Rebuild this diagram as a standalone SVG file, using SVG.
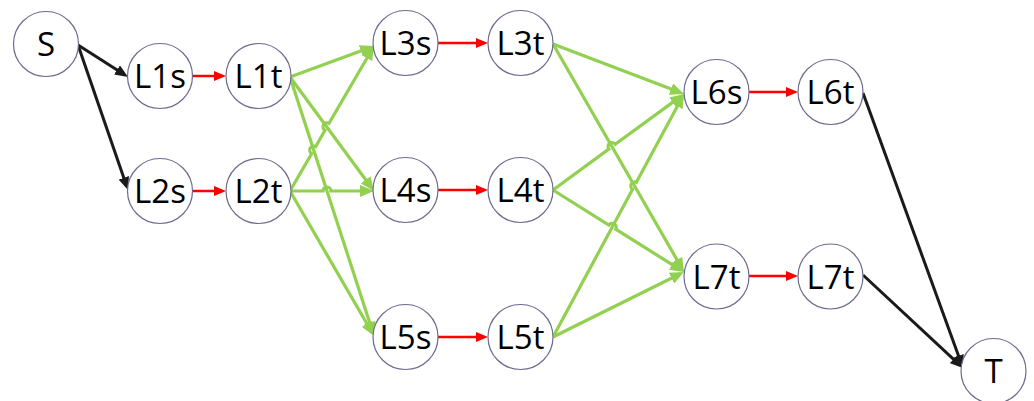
<svg xmlns="http://www.w3.org/2000/svg" width="1034" height="401" viewBox="0 0 1034 401">
  <style>
    .node circle { fill: #ffffff; stroke: #6b6b8e; stroke-width: 1.2; }
    .node text { font-family: "Open Sans", "Noto Sans", "Liberation Sans", sans-serif; font-size: 33px; fill: #000000; text-anchor: middle; }
    .blk { fill: none; stroke: #1a1a1a; stroke-width: 3; marker-end: url(#ahBlack); }
    .red { fill: none; stroke: #ff0000; stroke-width: 2.5; marker-end: url(#ahRed); }
    .grn { fill: none; stroke: #92d050; stroke-width: 3.2; marker-end: url(#ahGreen); }
  </style>
  <defs>
    <marker id="ahBlack" markerUnits="userSpaceOnUse" markerWidth="14" markerHeight="11" refX="9" refY="5.5" orient="auto">
      <path d="M0,0 L13,5.5 L0,11 z" fill="#1a1a1a"/>
    </marker>
    <marker id="ahRed" markerUnits="userSpaceOnUse" markerWidth="13" markerHeight="10" refX="8" refY="5" orient="auto">
      <path d="M0,0 L12,5 L0,10 z" fill="#ff0000"/>
    </marker>
    <marker id="ahGreen" markerUnits="userSpaceOnUse" markerWidth="15" markerHeight="12" refX="10" refY="6" orient="auto">
      <path d="M0,0 L14,6 L0,12 z" fill="#92d050"/>
    </marker>
  </defs>

  <rect width="1034" height="401" fill="#ffffff"/>

  <g id="connectors">
    <!-- source / sink edges -->
    <path class="blk" d="M78,45 L124.6,74.8"/>
    <path class="blk" d="M78,45 L126.7,186.3"/>
    <path class="blk" d="M863,93 L961.6,364.3"/>
    <path class="blk" d="M863,275 L960.1,365.3"/>

    <!-- internal s->t edges -->
    <path class="red" d="M193,76 L222,76"/>
    <path class="red" d="M193,191 L222,191"/>
    <path class="red" d="M438,43 L484,43"/>
    <path class="red" d="M438,190 L484,190"/>
    <path class="red" d="M438,337 L484,337"/>
    <path class="red" d="M749,92 L794,92"/>
    <path class="red" d="M749,276 L794,276"/>

    <!-- L1t / L2t to L3s, L4s, L5s -->
    <path class="grn" d="M290,77 L370.2,47.4"/>
    <path class="grn" d="M290,77 L371.6,187.8"/>
    <path class="grn" d="M290,77 L372.8,332.2"/>
    <path class="grn" d="M290,191 L311.7,153.6 A4,4 0 0 1 315.7,146.6 L325,130.3 A4,4 0 0 1 329,123.3 L372,49.5"/>
    <path class="grn" d="M290,191 L323,191 A4,4 0 0 1 331,191 L370,191"/>
    <path class="grn" d="M290,191 L372,332.5"/>

    <!-- L3t / L4t / L5t to L6s, L7t -->
    <path class="grn" d="M553,44 L680.3,92.6"/>
    <path class="grn" d="M553,44 L682,268.5"/>
    <path class="grn" d="M553,190 L608.8,149.1 A4,4 0 0 1 615.2,144.3 L680.8,96.4"/>
    <path class="grn" d="M553,190 L608.9,225 A4,4 0 0 1 615.7,229.2 L680.6,269.9"/>
    <path class="grn" d="M553,337 L632.6,189.3 A4,4 0 0 1 636.4,182.3 L682.1,97.5"/>
    <path class="grn" d="M553,337 L680.4,273.8"/>
  </g>

  <g id="S" class="node"><circle cx="46" cy="44" r="32.5"/><text x="46" y="56">S</text></g>
  <g id="L1s" class="node"><circle cx="160" cy="76" r="32.5"/><text x="160" y="88">L1s</text></g>
  <g id="L1t" class="node"><circle cx="258.5" cy="76" r="32.5"/><text x="258.5" y="88">L1t</text></g>
  <g id="L2s" class="node"><circle cx="160" cy="191" r="32.5"/><text x="160" y="203">L2s</text></g>
  <g id="L2t" class="node"><circle cx="258.5" cy="191" r="32.5"/><text x="258.5" y="203">L2t</text></g>
  <g id="L3s" class="node"><circle cx="405.5" cy="43" r="32.5"/><text x="405.5" y="55">L3s</text></g>
  <g id="L3t" class="node"><circle cx="520.5" cy="43" r="32.5"/><text x="520.5" y="55">L3t</text></g>
  <g id="L4s" class="node"><circle cx="405.5" cy="190" r="32.5"/><text x="405.5" y="202">L4s</text></g>
  <g id="L4t" class="node"><circle cx="520.5" cy="190" r="32.5"/><text x="520.5" y="202">L4t</text></g>
  <g id="L5s" class="node"><circle cx="405.5" cy="337" r="32.5"/><text x="405.5" y="349">L5s</text></g>
  <g id="L5t" class="node"><circle cx="520.5" cy="337" r="32.5"/><text x="520.5" y="349">L5t</text></g>
  <g id="L6s" class="node"><circle cx="716.5" cy="92" r="32.5"/><text x="716.5" y="104">L6s</text></g>
  <g id="L6t" class="node"><circle cx="830.5" cy="92" r="32.5"/><text x="830.5" y="104">L6t</text></g>
  <g id="L7t-a" class="node"><circle cx="716.5" cy="276.5" r="32.5"/><text x="716.5" y="288.5">L7t</text></g>
  <g id="L7t-b" class="node"><circle cx="830.5" cy="276.5" r="32.5"/><text x="830.5" y="288.5">L7t</text></g>
  <g id="T" class="node"><circle cx="993.5" cy="371" r="32.5"/><text x="993.5" y="383">T</text></g>
</svg>
